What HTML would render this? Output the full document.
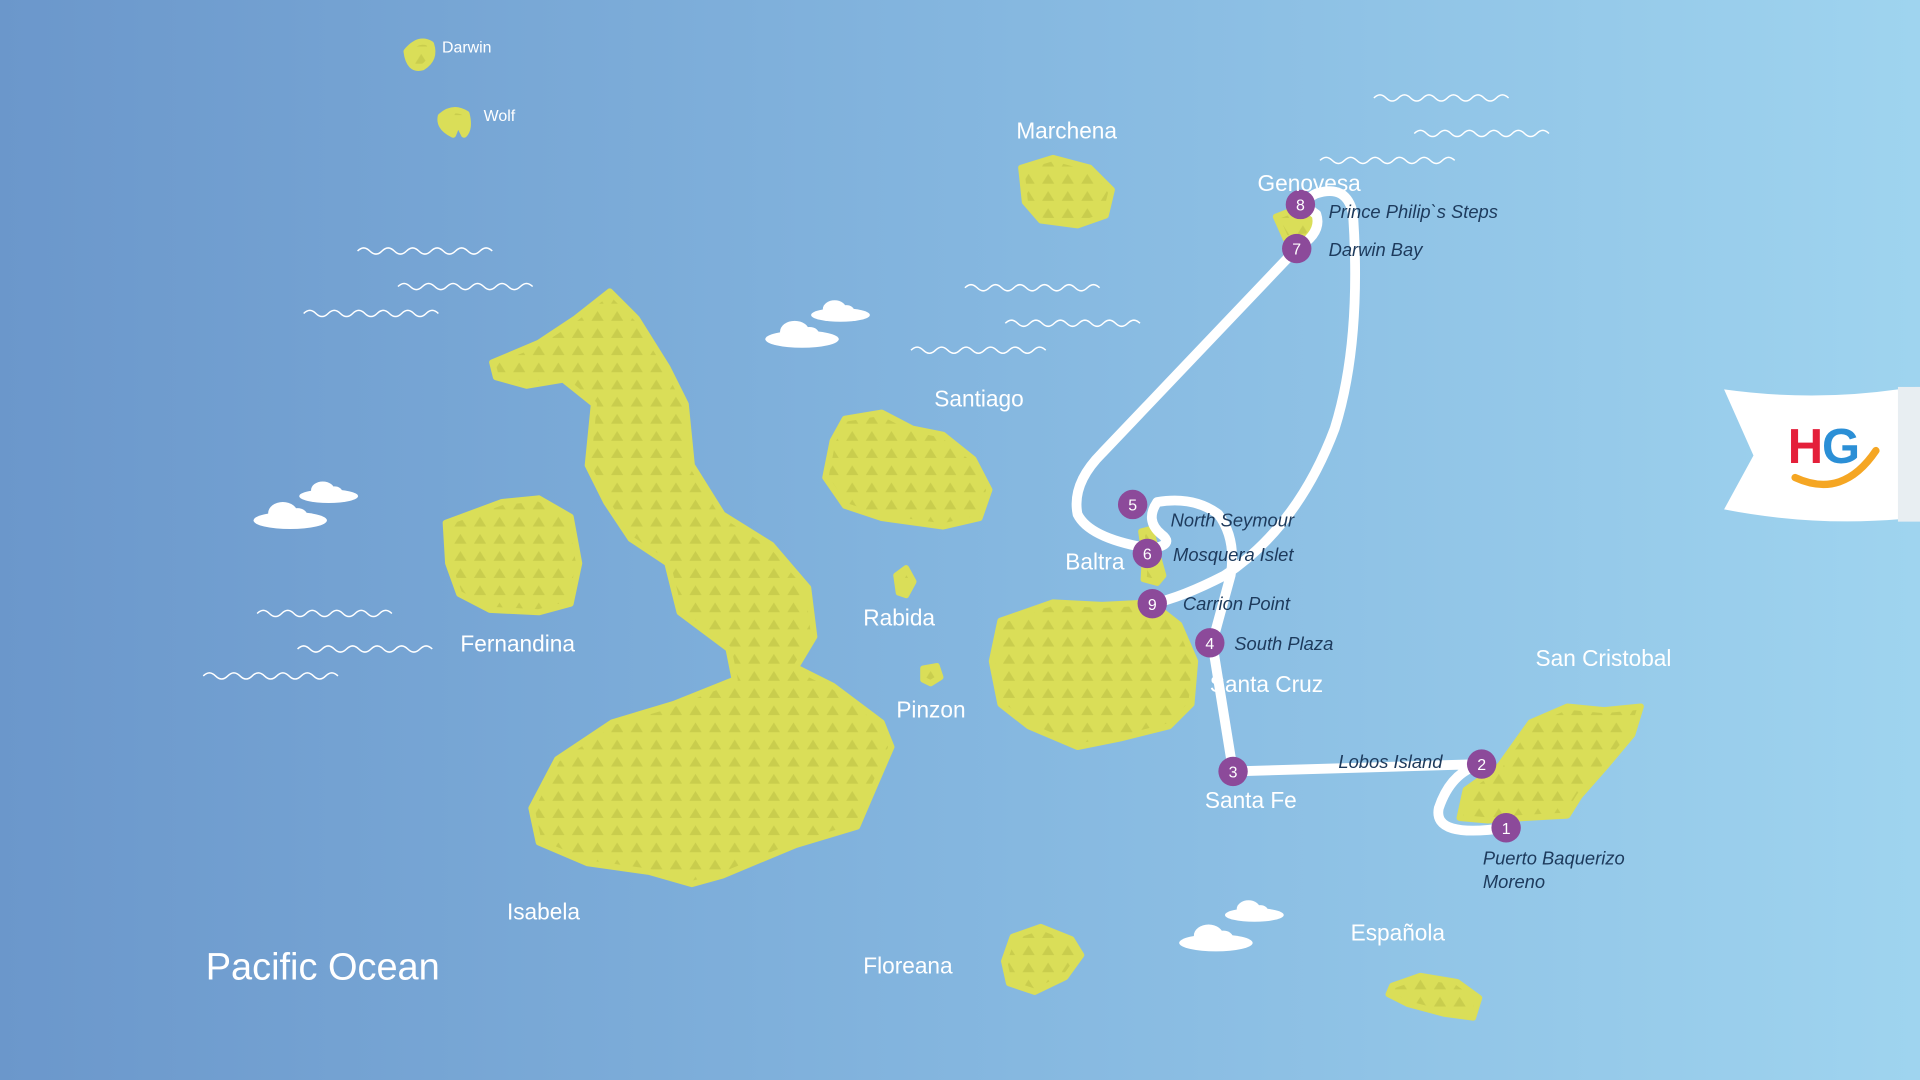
<!DOCTYPE html>
<html><head><meta charset="utf-8"><style>
html,body{margin:0;padding:0;width:1920px;height:1080px;overflow:hidden}
svg{display:block}
text{font-family:"Liberation Sans",sans-serif}
</style></head><body>
<svg width="1920" height="1080" viewBox="0 0 1568 882" xmlns="http://www.w3.org/2000/svg">
<defs>
<linearGradient id="bg" x1="0" y1="0" x2="1" y2="0">
<stop offset="0" stop-color="#6b97cb"/><stop offset="0.5" stop-color="#84b6df"/><stop offset="1" stop-color="#9fd4ef"/>
</linearGradient>
<pattern id="pt" width="16" height="14" patternUnits="userSpaceOnUse">
<rect width="16" height="14" fill="#dade58"/>
<path d="M8 2 L13 10 L3 10Z" fill="#c4c94a" opacity="0.8"/>
</pattern>
<g id="wave"><path d="M0 0 q5 -5 10 0 t10 0 t10 0 t10 0 t10 0 t10 0 t10 0 t10 0 t10 0 t10 0 t10 0" fill="none" stroke="#fff" stroke-width="1.2"/></g>
<g id="cloud"><ellipse cx="28" cy="19" rx="30" ry="7" fill="#fff"/><ellipse cx="22" cy="13" rx="12" ry="9" fill="#fff"/><ellipse cx="34" cy="15" rx="8" ry="6" fill="#fff"/></g>
</defs>
<rect width="1568" height="882" fill="url(#bg)"/>

<use href="#wave" x="292" y="205"/><use href="#wave" x="325" y="234"/><use href="#wave" x="248" y="256"/>
<use href="#wave" x="210" y="501"/><use href="#wave" x="243" y="530"/><use href="#wave" x="166" y="552"/>
<use href="#wave" x="1122" y="80"/><use href="#wave" x="1155" y="109"/><use href="#wave" x="1078" y="131"/>
<use href="#wave" x="788" y="235"/><use href="#wave" x="821" y="264"/><use href="#wave" x="744" y="286"/>

<use href="#cloud" x="627" y="258"/><use href="#cloud" transform="translate(664,242) scale(0.8)"/>
<use href="#cloud" x="209" y="406"/><use href="#cloud" transform="translate(246,390) scale(0.8)"/>
<use href="#cloud" x="965" y="751"/><use href="#cloud" transform="translate(1002,732) scale(0.8)"/>

<g fill="url(#pt)" stroke="#dade58" stroke-width="5" stroke-linejoin="round">
<path d="M498 238 L520 260 L545 300 L560 330 L565 380 L590 420 L630 445 L660 480 L665 520 L650 545 L680 560 L720 590 L728 610 L715 640 L700 675 L650 690 L590 715 L565 722 L530 712 L480 705 L440 688 L434 660 L455 620 L500 590 L550 575 L600 555 L595 530 L555 500 L545 460 L515 440 L495 410 L480 380 L485 330 L460 310 L430 315 L405 308 L402 296 L440 280 L470 260Z"/>
<path d="M364 427 L410 410 L440 407 L466 422 L473 460 L466 493 L440 500 L400 498 L375 485 L366 460Z"/>
<path d="M690 342 L720 337 L745 350 L770 355 L795 375 L808 400 L800 423 L770 430 L720 423 L690 413 L674 390 L680 360Z"/>
<path d="M834 137 L860 129 L890 137 L908 155 L903 176 L880 184 L850 180 L837 165Z"/>
<path d="M817 507 L860 492 L900 494 L940 492 L963 510 L976 540 L973 575 L955 593 L915 603 L880 610 L840 593 L817 575 L810 540Z"/>
<path d="M1197 645 L1225 625 L1250 590 L1280 577 L1310 580 L1340 577 L1333 600 L1312 625 L1290 650 L1280 666 L1245 668 L1215 670 L1192 668Z"/>
<path d="M827 765 L850 757 L875 767 L883 780 L870 798 L845 810 L824 803 L820 785Z"/>
<path d="M1137 805 L1160 797 L1190 802 L1208 815 L1203 831 L1180 828 L1150 820 L1134 812Z"/>
<path d="M732 470 L740 464 L746 475 L740 486 L734 484Z"/>
<path d="M754 546 L765 544 L768 553 L760 558 L754 555Z"/>
<path d="M1042 177 L1060 170 L1076 180 L1068 193 L1050 195Z"/>
<path d="M932 434 L940 432 L943 445 L950 470 L945 476 L934 473 L935 455Z"/>
<path d="M332 42 Q342 30 352 36 Q356 48 345 55 Q334 58 332 42Z"/>
<path d="M360 95 Q370 86 381 93 Q384 105 379 110 L374 100 L370 110 Q358 104 360 95Z"/>
</g>

<g fill="none" stroke="#fff" stroke-width="8" stroke-linecap="round" stroke-linejoin="round">
<path d="M1230 676 Q1170 685 1175 660 Q1185 630 1210 624 L1007 630 L990 525 L1005 470 Q1010 440 995 420 Q975 405 945 410 Q935 425 948 436 Q960 445 940 448 Q890 440 880 420 Q875 395 900 370 L1059 203 Q1080 190 1075 175 Q1060 165 1075 158 Q1100 150 1105 175 Q1112 280 1090 350 Q1060 430 1000 470 Q965 488 941 493"/>
</g>

<g font-size="13" fill="#fff" text-anchor="middle">
<g><circle cx="1230" cy="676" r="12" fill="#8c4a9a"/><text x="1230" y="681">1</text></g>
<g><circle cx="1210" cy="624" r="12" fill="#8c4a9a"/><text x="1210" y="629">2</text></g>
<g><circle cx="1007" cy="630" r="12" fill="#8c4a9a"/><text x="1007" y="635">3</text></g>
<g><circle cx="988" cy="525" r="12" fill="#8c4a9a"/><text x="988" y="530">4</text></g>
<g><circle cx="925" cy="412" r="12" fill="#8c4a9a"/><text x="925" y="417">5</text></g>
<g><circle cx="937" cy="452" r="12" fill="#8c4a9a"/><text x="937" y="457">6</text></g>
<g><circle cx="1059" cy="203" r="12" fill="#8c4a9a"/><text x="1059" y="208">7</text></g>
<g><circle cx="1062" cy="167" r="12" fill="#8c4a9a"/><text x="1062" y="172">8</text></g>
<g><circle cx="941" cy="493" r="12" fill="#8c4a9a"/><text x="941" y="498">9</text></g>
</g>

<g font-size="15" font-style="italic" fill="#1d3a5c">
<text x="1085" y="178">Prince Philip`s Steps</text>
<text x="1085" y="209">Darwin Bay</text>
<text x="956" y="430">North Seymour</text>
<text x="958" y="458">Mosquera Islet</text>
<text x="966" y="498">Carrion Point</text>
<text x="1008" y="531">South Plaza</text>
<text x="1093" y="627">Lobos Island</text>
<text x="1211" y="706">Puerto Baquerizo</text>
<text x="1211" y="725">Moreno</text>
</g>

<g font-size="18.5" fill="#fff">
<text x="830" y="113">Marchena</text>
<text x="1027" y="156">Genovesa</text>
<text x="763" y="332">Santiago</text>
<text x="870" y="465">Baltra</text>
<text x="705" y="511">Rabida</text>
<text x="376" y="532">Fernandina</text>
<text x="988" y="565">Santa Cruz</text>
<text x="732" y="586">Pinzon</text>
<text x="1254" y="544">San Cristobal</text>
<text x="984" y="660">Santa Fe</text>
<text x="414" y="751">Isabela</text>
<text x="705" y="795">Floreana</text>
<text x="1103" y="768">Española</text>
</g>
<text x="361" y="43" font-size="13" fill="#fff">Darwin</text>
<text x="395" y="99" font-size="13" fill="#fff">Wolf</text>
<text x="168" y="800" font-size="31" fill="#fff">Pacific Ocean</text>

<path d="M1408 318 Q1480 328 1550 318 L1552 424 Q1480 430 1408 416 L1432 372 Z" fill="#fff"/>
<rect x="1550" y="316" width="18" height="110" fill="#e8eef2"/>
<text x="1460" y="378" font-size="40" font-weight="bold" fill="#e4203a">H</text>
<text x="1488" y="378" font-size="40" font-weight="bold" fill="#2b8fd6">G</text>
<path d="M1466 390 Q1505 408 1532 368" fill="none" stroke="#f5a623" stroke-width="6" stroke-linecap="round"/>
</svg>
</body></html>
